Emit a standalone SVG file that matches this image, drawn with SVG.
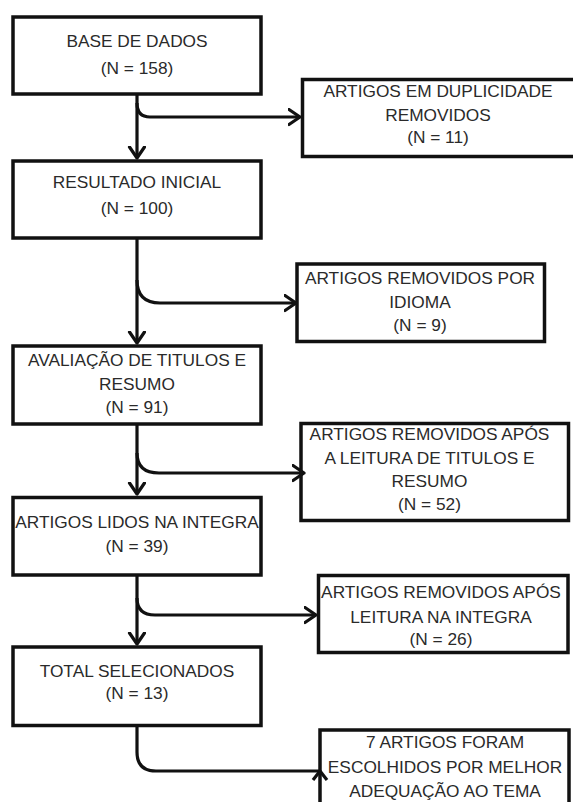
<svg xmlns="http://www.w3.org/2000/svg" width="573" height="802" viewBox="0 0 573 802">
<style>
.box{fill:none;stroke:#111;stroke-width:3.5}
.t{font-family:"Liberation Sans",Arial,sans-serif;font-size:17.3px;fill:#2a2a2a;text-anchor:middle}
.c{fill:none;stroke:#111;stroke-width:3.2;stroke-linejoin:round;stroke-linecap:butt}
</style>
<defs>
<marker id="arr" markerUnits="userSpaceOnUse" markerWidth="16" markerHeight="20" refX="12" refY="9" orient="auto" viewBox="0 0 16 20">
<path d="M1,1.5 L12,9 L1,16.5" fill="none" stroke="#111" stroke-width="3.2" stroke-linejoin="round" stroke-linecap="round"/>
</marker>
</defs>
<rect width="573" height="802" fill="#fff"/>

<g id="connectors">
<path class="c" d="M137,94 V158" marker-end="url(#arr)"/>
<path class="c" d="M137,239 V343" marker-end="url(#arr)"/>
<path class="c" d="M137,424 V494" marker-end="url(#arr)"/>
<path class="c" d="M137,575 V644" marker-end="url(#arr)"/>
<path class="c" d="M137,103 Q137,117 150,117 H300" marker-end="url(#arr)"/>
<path class="c" d="M137,280 Q137,303 160,303 H296" marker-end="url(#arr)"/>
<path class="c" d="M137,453 Q137,473 159,473 H304" marker-end="url(#arr)"/>
<path class="c" d="M137,598 Q137,615 155,615 H316" marker-end="url(#arr)"/>
<path class="c" d="M137,726 V752 Q137,771 156,771 H320"/>
<path class="c" d="M313,780 L320,771 L327,780" stroke-linecap="round"/>
</g>

<g id="base">
<text class="t" x="137" y="47">BASE DE DADOS</text>
<text class="t" x="137" y="73.5">(N = 158)</text>
<rect class="box" x="13" y="17" width="248" height="77"/>
</g>
<g id="duplicados">
<text class="t" x="438" y="97">ARTIGOS EM DUPLICIDADE</text>
<text class="t" x="438" y="121">REMOVIDOS</text>
<text class="t" x="438" y="142.5">(N = 11)</text>
<rect class="box" x="302.5" y="79.5" width="280" height="77"/>
</g>
<g id="resultado">
<text class="t" x="137" y="188">RESULTADO INICIAL</text>
<text class="t" x="137" y="213.5">(N = 100)</text>
<rect class="box" x="13" y="161" width="248" height="77"/>
</g>
<g id="idioma">
<text class="t" x="420" y="283.5">ARTIGOS REMOVIDOS POR</text>
<text class="t" x="420" y="307.7">IDIOMA</text>
<text class="t" x="420" y="330.7">(N = 9)</text>
<rect class="box" x="297" y="264" width="247.5" height="77.5"/>
</g>
<g id="avaliacao">
<text class="t" x="137" y="366">AVALIAÇÃO DE TITULOS E</text>
<text class="t" x="137" y="390">RESUMO</text>
<text class="t" x="137" y="412.7">(N = 91)</text>
<rect class="box" x="13" y="346" width="248" height="78"/>
</g>
<g id="removidos-titulos">
<text class="t" x="429.5" y="440">ARTIGOS REMOVIDOS APÓS</text>
<text class="t" x="429.5" y="464">A LEITURA DE TITULOS E</text>
<text class="t" x="429.5" y="486.7">RESUMO</text>
<text class="t" x="429.5" y="510">(N = 52)</text>
<rect class="box" x="301" y="423.5" width="267.5" height="97"/>
</g>
<g id="lidos">
<text class="t" x="137" y="528">ARTIGOS LIDOS NA INTEGRA</text>
<text class="t" x="137" y="552">(N = 39)</text>
<rect class="box" x="13" y="497.5" width="248" height="77.5"/>
</g>
<g id="removidos-integra">
<text class="t" x="441" y="598.3">ARTIGOS REMOVIDOS APÓS</text>
<text class="t" x="441" y="622.7">LEITURA NA INTEGRA</text>
<text class="t" x="441" y="645.3">(N = 26)</text>
<rect class="box" x="318.5" y="575.5" width="249.5" height="77"/>
</g>
<g id="total">
<text class="t" x="137" y="677">TOTAL SELECIONADOS</text>
<text class="t" x="137" y="698.5">(N = 13)</text>
<rect class="box" x="13" y="647" width="248" height="78.5"/>
</g>
<g id="escolhidos">
<text class="t" x="445" y="748">7 ARTIGOS FORAM</text>
<text class="t" x="445" y="772.7">ESCOLHIDOS POR MELHOR</text>
<text class="t" x="445" y="796.7">ADEQUAÇÃO AO TEMA</text>
<rect class="box" x="320" y="730" width="249" height="80"/>
</g>
</svg>
